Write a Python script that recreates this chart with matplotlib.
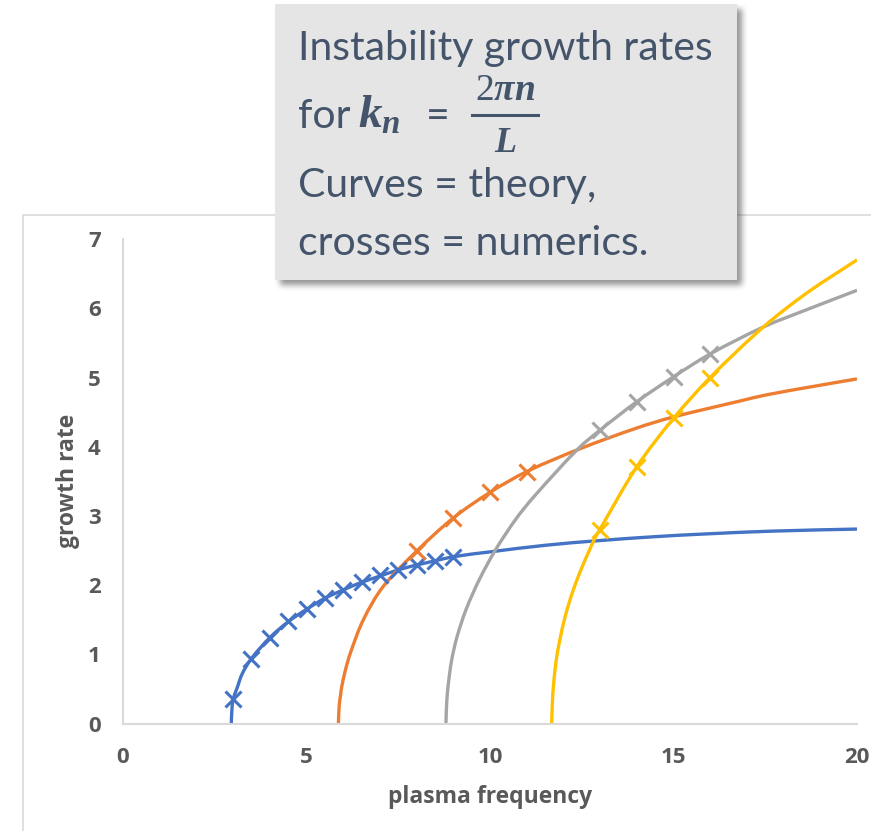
import matplotlib
matplotlib.use("Agg")
import matplotlib.pyplot as plt
from matplotlib.patches import Rectangle, PathPatch
from matplotlib.lines import Line2D
from matplotlib.path import Path
import numpy as np

# ---- theory curves: growth rate vs plasma frequency, modes n = 1..4 ----
n1_freq = [2.95, 2.97, 3.0, 3.1, 3.25, 3.5, 4.0, 4.5, 5.0, 5.5, 6.0, 6.5, 7.0,
           7.5, 8.0, 8.5, 9.0, 10.0, 11.5, 12.9, 14.5, 15.9, 17.7, 20.0]
n1_rate = [0.0, 0.22, 0.35, 0.50, 0.72, 0.94, 1.24, 1.47, 1.65, 1.81, 1.93, 2.04, 2.13,
           2.22, 2.29, 2.35, 2.41, 2.48, 2.575, 2.64, 2.70, 2.74, 2.78, 2.81]

n2_freq = [5.87, 5.89, 5.93, 5.96, 6.05, 6.19, 6.55, 7.09, 8.0, 9.0, 10.0, 11.0,
           12.45, 14.0, 15.0, 16.81, 17.54, 18.8, 20.0]
n2_rate = [0.0, 0.25, 0.42, 0.53, 0.75, 1.01, 1.50, 1.98, 2.49, 2.97, 3.34, 3.64,
           3.97, 4.27, 4.43, 4.66, 4.75, 4.87, 4.98]

n3_freq = [8.80, 8.82, 8.86, 8.95, 9.10, 9.35, 9.70, 10.14, 10.70, 11.20, 12.40,
           13.0, 14.0, 15.0, 16.0, 17.45, 18.63, 20.0]
n3_rate = [0.0, 0.30, 0.55, 0.90, 1.25, 1.65, 2.07, 2.50, 2.95, 3.28, 3.97,
           4.24, 4.65, 5.01, 5.34, 5.73, 5.98, 6.26]

n4_freq = [11.68, 11.70, 11.73, 11.80, 11.90, 12.05, 12.25, 12.50, 12.86, 13.0,
           14.0, 15.0, 16.0, 17.45, 18.63, 20.0]
n4_rate = [0.0, 0.30, 0.55, 0.90, 1.20, 1.55, 1.90, 2.25, 2.68, 2.81,
           3.71, 4.41, 5.00, 5.73, 6.22, 6.70]

# ---- numerical results ----
n1_num_freq = [3.0, 3.5, 4.0, 4.5, 5.0, 5.5, 6.0, 6.5, 7.0, 7.5, 8.0, 8.5, 9.0]
n1_num_rate = [0.35, 0.93, 1.24, 1.48, 1.65, 1.81, 1.93, 2.04, 2.14, 2.22, 2.29, 2.35, 2.41]
n2_num_freq = [8.0, 9.0, 10.0, 11.0]
n2_num_rate = [2.49, 2.97, 3.34, 3.64]
n3_num_freq = [13.0, 14.0, 15.0, 16.0]
n3_num_rate = [4.24, 4.65, 5.01, 5.34]
n4_num_freq = [13.0, 14.0, 15.0, 16.0]
n4_num_rate = [2.80, 3.71, 4.41, 5.00]

colors = ["#4472c4", "#ed7d31", "#a5a5a5", "#ffc000"]
x_ticks = [0, 5, 10, 15, 20]
y_ticks = [0, 1, 2, 3, 4, 5, 6, 7]

plt.rcParams["mathtext.fontset"] = "custom"
plt.rcParams["mathtext.it"] = "Liberation Serif:italic:bold"
plt.rcParams["mathtext.rm"] = "Liberation Serif"
plt.rcParams["mathtext.bf"] = "Liberation Serif:bold"

W, H = 871, 831
fig = plt.figure(figsize=(W / 100, H / 100), dpi=100)
fig.patch.set_facecolor("white")


def fx(px):
    return px / W


def fy(py):
    return 1 - py / H


# chart-area frame (runs off the right and bottom edges)
fig.patches.append(Rectangle((fx(23), fy(900)), fx(920) - fx(23), fy(215) - fy(900),
                             transform=fig.transFigure, fill=False,
                             edgecolor="#d9d9d9", lw=1.2, zorder=0))

ax = fig.add_axes([fx(123), fy(723.5), (857 - 123) / W, (723.5 - 239.1) / H])
ax.set_facecolor("none")
ax.set_xlim(0, 20)
ax.set_ylim(0, 7)


def smooth_path(xs, ys):
    """Smoothed line through the points (cubic Bezier segments, like a
    spreadsheet 'smoothed line'); tangents are computed in screen space."""
    pts = ax.transData.transform(np.column_stack([xs, ys]))
    n = len(pts)
    tang = np.zeros_like(pts)
    for i in range(n):
        a = pts[max(i - 1, 0)]
        b = pts[min(i + 1, n - 1)]
        d = b - a
        tang[i] = d / np.hypot(*d)
    verts = [pts[0]]
    codes = [Path.MOVETO]
    for i in range(n - 1):
        p1, p2 = pts[i], pts[i + 1]
        L = np.hypot(*(p2 - p1)) / 3.0
        verts += [p1 + tang[i] * L, p2 - tang[i + 1] * L, p2]
        codes += [Path.CURVE4] * 3
    verts = ax.transData.inverted().transform(np.array(verts))
    return Path(verts, codes)


theory = [(n1_freq, n1_rate), (n2_freq, n2_rate), (n3_freq, n3_rate), (n4_freq, n4_rate)]
numerics = [(n1_num_freq, n1_num_rate), (n2_num_freq, n2_num_rate),
            (n3_num_freq, n3_num_rate), (n4_num_freq, n4_num_rate)]

for (xs, ys), c in zip(theory, colors):
    ax.add_patch(PathPatch(smooth_path(xs, ys), facecolor="none", edgecolor=c,
                           lw=2.4, capstyle="butt", zorder=2))
for (xs, ys), c in zip(numerics, colors):
    ax.plot(xs, ys, ls="none", marker="x", ms=11, mew=2.2, color=c, zorder=3)

ax.set_xticks(x_ticks)
ax.set_yticks(y_ticks)
ax.set_xticklabels([str(v) for v in x_ticks])
ax.set_yticklabels([str(v) for v in y_ticks])

for s in ("top", "right"):
    ax.spines[s].set_visible(False)
for s in ("left", "bottom"):
    ax.spines[s].set_color("#d9d9d9")
    ax.spines[s].set_linewidth(1.5)

label_family = ["Open Sans", "DejaVu Sans"]
ax.tick_params(axis="both", length=0, colors="#595959")
ax.tick_params(axis="x", pad=17)
ax.tick_params(axis="y", pad=16)
for lab in ax.get_xticklabels() + ax.get_yticklabels():
    lab.set_fontfamily(label_family)
    lab.set_fontweight("bold")
    lab.set_fontsize(16)

ax.set_xlabel("plasma frequency", color="#595959", fontsize=16.5,
              fontweight="bold", family=label_family)
ax.set_ylabel("growth rate", color="#595959", fontsize=16.5,
              fontweight="bold", family=label_family)
ax.xaxis.set_label_coords(0.5, (723.5 - 797) / 484.4)
ax.xaxis.label.set_va("center")
ax.yaxis.set_label_coords((68 - 123) / 734, 0.5)
ax.yaxis.label.set_va("center")

# ---- caption box with soft drop shadow ----
bx0, by0, bx1, by1 = 275, 4, 737, 280
pad = 20
sh_w, sh_h = (bx1 - bx0) + 2 * pad, (by1 - by0) + 2 * pad
alpha = np.zeros((sh_h, sh_w))
off_x, off_y = 5, 5
alpha[pad + off_y:pad + off_y + (by1 - by0), pad + off_x:pad + off_x + (bx1 - bx0)] = 1.0
k = np.ones(7) / 7.0
for _ in range(2):
    alpha = np.apply_along_axis(lambda r: np.convolve(r, k, mode="same"), 1, alpha)
    alpha = np.apply_along_axis(lambda r: np.convolve(r, k, mode="same"), 0, alpha)
shadow = np.zeros((sh_h, sh_w, 4))
shadow[..., :3] = 0.25
shadow[..., 3] = alpha * 0.55
fig.figimage(shadow, xo=bx0 - pad, yo=H - (by1 + pad), origin="upper", zorder=4)

fig.patches.append(Rectangle((fx(bx0), fy(by1)), fx(bx1) - fx(bx0), fy(by0) - fy(by1),
                             transform=fig.transFigure, facecolor="#e5e5e5",
                             edgecolor="none", zorder=5))

txt_color = "#44546a"
box_font = dict(family=["Lato", "DejaVu Sans"], weight="normal", size=29.5, color=txt_color)
fig.text(fx(298), fy(60), "Instability growth rates", va="baseline", ha="left",
         zorder=6, **box_font)
fig.text(fx(298), fy(128), "for", va="baseline", ha="left", zorder=6, **box_font)
fig.text(fx(358), fy(128), r"$k_n$", va="baseline", ha="left", zorder=6,
         size=34, color=txt_color)
fig.text(fx(438), fy(128), "=", va="baseline", ha="center", zorder=6, **box_font)
# fraction 2*pi*n / L
fig.text(fx(505), fy(100), r"$\mathit{2}\pi n$", va="baseline", ha="center",
         zorder=6, size=27, color=txt_color)
fig.lines.append(Line2D([fx(472), fx(538)], [fy(115), fy(115)],
                        transform=fig.transFigure, color=txt_color, lw=2.2, zorder=6))
fig.text(fx(505), fy(152), r"$L$", va="baseline", ha="center",
         zorder=6, size=26, color=txt_color)
fig.text(fx(298), fy(197), "Curves = theory,", va="baseline", ha="left",
         zorder=6, **box_font)
fig.text(fx(298), fy(255), "crosses = numerics.", va="baseline", ha="left",
         zorder=6, **box_font)

fig.savefig("out.png", dpi=100, facecolor="white")
